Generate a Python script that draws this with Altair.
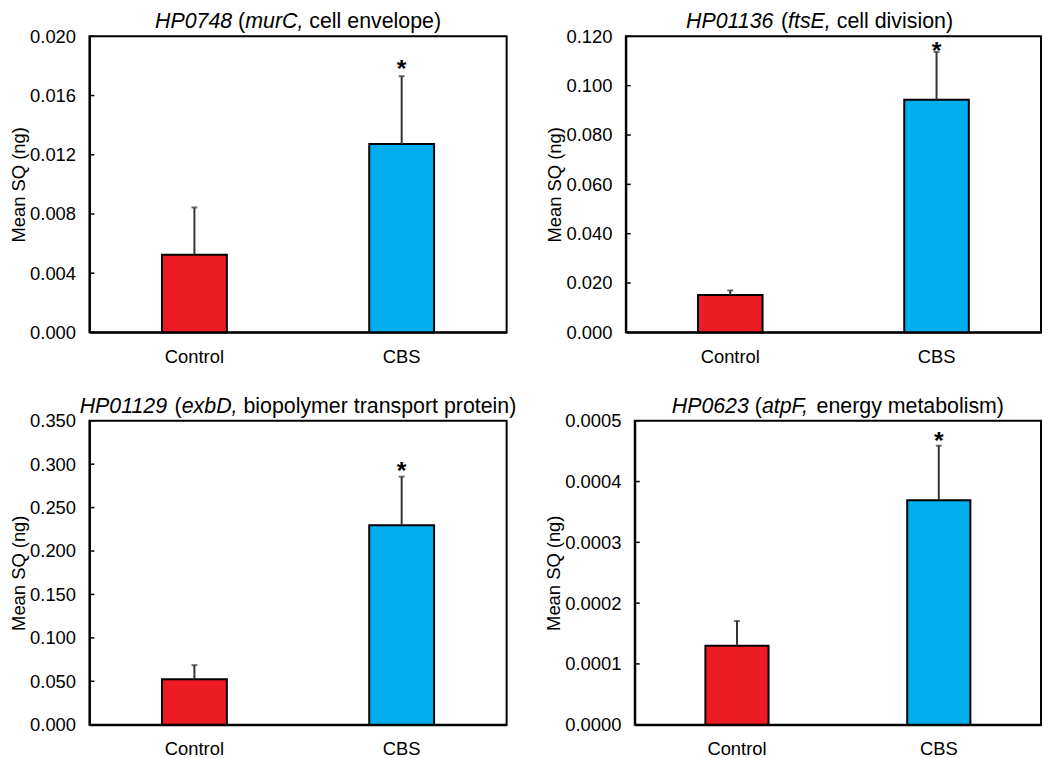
import altair as alt
import pandas as pd

FONT = "Liberation Sans"
groups = ["Control", "CBS"]
colors = ["#ED1C24", "#00AEEF"]

# Panel A: HP0748
a_mean = [0.00525, 0.01272]
a_upper = [0.00844, 0.01731]
a_star = [0.0182]
a_ticks = [0.000, 0.004, 0.008, 0.012, 0.016, 0.020]

# Panel B: HP01136
b_mean = [0.0151, 0.0943]
b_upper = [0.0170, 0.1137]
b_star = [0.1165]
b_ticks = [0.000, 0.020, 0.040, 0.060, 0.080, 0.100, 0.120]

# Panel C: HP01129
c_mean = [0.0523, 0.2296]
c_upper = [0.0686, 0.2856]
c_star = [0.2985]
c_ticks = [0.000, 0.050, 0.100, 0.150, 0.200, 0.250, 0.300, 0.350]

# Panel D: HP0623
d_mean = [0.0001297, 0.0003693]
d_upper = [0.0001706, 0.000459]
d_star = [0.000477]
d_ticks = [0.0000, 0.0001, 0.0002, 0.0003, 0.0004, 0.0005]

# Title segments (text, italic?)
a_title = [("HP0748", True), (" (", False), ("murC,", True), (" cell envelope)", False)]
b_title = [("HP01136", True), (" (", False), ("ftsE,", True), (" cell division)", False)]
c_title = [("HP01129", True), (" (", False), ("exbD,", True), (" biopolymer transport protein)", False)]
d_title = [("HP0623", True), (" (", False), ("atpF,", True), (" energy metabolism)", False)]

# Arial / Liberation Sans advance widths (per 1000 em) for laying out mixed-style titles
ADV = {" ": 278, "(": 333, ")": 333, ",": 278,
       "H": 722, "P": 667, "C": 722, "E": 667, "D": 722, "F": 611,
       "a": 556, "b": 556, "c": 500, "d": 556, "e": 556, "f": 278, "g": 556,
       "h": 556, "i": 222, "l": 222, "m": 833, "n": 556, "o": 556, "p": 556,
       "r": 333, "s": 500, "t": 278, "u": 556, "v": 500, "x": 500, "y": 500}
for dgt in "0123456789":
    ADV[dgt] = 556

TITLE_FS = 21.5
LABEL_FS = 18.5


def text_width(s, fs):
    return sum(ADV.get(ch, 556) for ch in s) * fs / 1000.0


def panel(mean, upper, star, ticks, fmt, segs, w, h, title_dx=0):
    df = pd.DataFrame({"group": groups, "mean": mean, "upper": upper})
    sdf = pd.DataFrame({"group": [groups[1]], "star": star})
    tdf = pd.DataFrame({"t": ticks})

    xscale = alt.Scale(domain=groups, paddingInner=0.687, paddingOuter=0.35)
    xaxis = alt.Axis(title=None, ticks=False, labelAngle=0, labelFontSize=LABEL_FS,
                     labelPadding=15, labelColor="black", domainColor="black",
                     domainWidth=2, labelFont=FONT)
    yscale = alt.Scale(domain=[ticks[0], ticks[-1]], nice=False, zero=True)
    yaxis = alt.Axis(values=ticks, format=fmt, ticks=False, labelFontSize=LABEL_FS,
                     labelPadding=14, labelColor="black", domainColor="black",
                     domainWidth=2, titleFontSize=LABEL_FS, titleFontWeight="normal",
                     titleColor="black", titlePadding=1, labelFont=FONT, titleFont=FONT,
                     grid=False)

    def X(field="group:N"):
        return alt.X(field, scale=xscale, axis=xaxis, sort=groups)

    def Y(field):
        return alt.Y(field, scale=yscale, axis=yaxis, title="Mean SQ (ng)")

    bars = alt.Chart(df).mark_bar(stroke="black", strokeWidth=2).encode(
        x=X(), y=Y("mean:Q"),
        color=alt.Color("group:N", scale=alt.Scale(domain=groups, range=colors), legend=None))
    err = alt.Chart(df).mark_rule(color="#333333", strokeWidth=2).encode(
        x=X(), y=Y("mean:Q"), y2="upper:Q")
    cap = alt.Chart(df).mark_tick(color="#333333", thickness=2, size=6,
                                  orient="horizontal").encode(x=X(), y=Y("upper:Q"))
    stars = alt.Chart(sdf).mark_text(text="*", fontSize=25, font=FONT, fontWeight="bold",
                                     color="black", baseline="alphabetic",
                                     dy=14).encode(x=X(), y=Y("star:Q"))
    tks = alt.Chart(tdf).mark_rule(color="black", strokeWidth=1.5).encode(
        y=Y("t:Q"), x=alt.value(0), x2=alt.value(5))

    total = sum(text_width(s, TITLE_FS) for s, _ in segs)
    pos = w / 2 + title_dx - total / 2
    tlayers = []
    for s, it in segs:
        stripped = s.lstrip(" ")
        lead = len(s) - len(stripped)
        pos += lead * ADV[" "] * TITLE_FS / 1000.0
        tlayers.append(
            alt.Chart(alt.Data(values=[{}])).mark_text(
                text=stripped, font=FONT, fontSize=TITLE_FS,
                fontStyle="italic" if it else "normal",
                align="left", baseline="alphabetic", color="black").encode(
                x=alt.value(pos), y=alt.value(-8)))
        pos += text_width(stripped, TITLE_FS)

    return alt.layer(bars, err, cap, stars, tks, *tlayers).properties(width=w, height=h)


pa = panel(a_mean, a_upper, a_star, a_ticks, ".3f", a_title, 420, 298)
pb = panel(b_mean, b_upper, b_star, b_ticks, ".3f", b_title, 418, 298, title_dx=-14)
pc = panel(c_mean, c_upper, c_star, c_ticks, ".3f", c_title, 420, 306)
pd_ = panel(d_mean, d_upper, d_star, d_ticks, ".4f", d_title, 409, 306)

top = alt.hconcat(pa, pb, spacing=120, bounds="flush")
bottom = alt.hconcat(pc, pd_, spacing=129, bounds="flush")
chart = alt.vconcat(top, bottom, spacing=28).properties(
    padding=0
).configure_view(stroke="black", strokeWidth=2)

chart.save("out.html", embed_options={"renderer": "svg", "actions": False})
